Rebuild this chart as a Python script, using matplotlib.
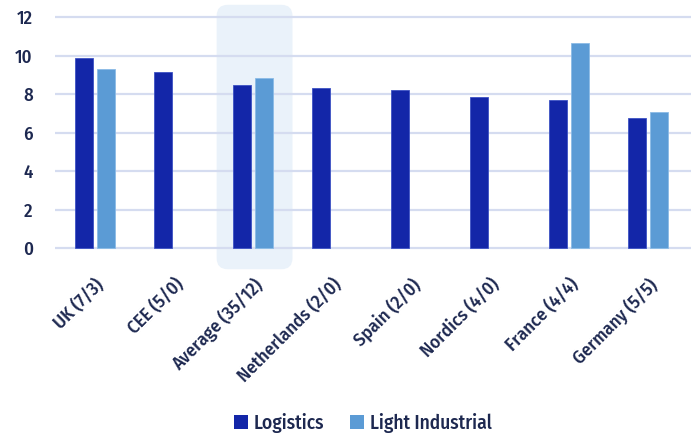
import numpy as np
import matplotlib
matplotlib.use("Agg")
import matplotlib.pyplot as plt
from matplotlib.patches import FancyBboxPatch, Patch
from matplotlib.transforms import IdentityTransform

categories = ["UK (7/3)", "CEE (5/0)", "Average (35/12)", "Netherlands (2/0)",
              "Spain (2/0)", "Nordics (4/0)", "France (4/4)", "Germany (5/5)"]
logistics = [9.9, 9.15, 8.47, 8.33, 8.2, 7.88, 7.72, 6.77]
light_industrial = [9.3, np.nan, 8.83, np.nan, np.nan, np.nan, 10.68, 7.08]
yticks = [0, 2, 4, 6, 8, 10, 12]
highlight = "Average (35/12)"

C_LOG = "#1326a8"
C_LI = "#5b9bd5"
TXT = "#1d2850"
GRID = "#d5dcf0"

plt.rcParams['font.family'] = ['Fira Sans Condensed', 'DejaVu Sans']
plt.rcParams['font.weight'] = 'medium'

fig = plt.figure(figsize=(6.91, 4.37), dpi=100)
ax = fig.add_axes([55/691, 0.4275, 1 - 55/691, 0.5373])
ax.set_xlim(-0.506, 7.544)
ax.set_ylim(-0.1, 12.1)

x = np.arange(len(categories))
w = 0.228
off = 0.142
ax.bar(x - off, logistics, w, color=C_LOG, edgecolor="#3d52c4", linewidth=0.6, zorder=3, label="Logistics")
ax.bar(x + off, light_industrial, w, color=C_LI, edgecolor="#8bbbe6", linewidth=0.6, zorder=3, label="Light Industrial")

for y in yticks:
    ax.axhline(y, color=GRID, lw=1.6, zorder=2)

for s in ax.spines.values():
    s.set_visible(False)
ax.set_yticks(yticks)
ax.set_yticklabels([str(v) for v in yticks])
ax.tick_params(axis='y', length=0, pad=16, labelsize=13.5, labelcolor=TXT)
ax.set_xticks(x)
ax.set_xticklabels(categories, rotation=45, ha='right', va='top', rotation_mode='anchor')
ax.tick_params(axis='x', length=0, pad=18, labelsize=13.5, labelcolor=TXT)

# highlight box around Average group
i = categories.index(highlight)
p0 = ax.transData.transform((i - 0.46, -1.09))
p1 = ax.transData.transform((i + 0.50, 12.65))
box = FancyBboxPatch((p0[0], p0[1]), p1[0] - p0[0], p1[1] - p0[1],
                     boxstyle="round,pad=0,rounding_size=11",
                     transform=IdentityTransform(), facecolor="#eaf2fa",
                     edgecolor="none", zorder=1, clip_on=False)
ax.add_artist(box)
ax.set_zorder(1)

handles = [Patch(facecolor=C_LOG, label="Logistics"), Patch(facecolor=C_LI, label="Light Industrial")]
fig.legend(handles=handles, loc='center', bbox_to_anchor=(0.525, 1 - 423/437), ncol=2,
           frameon=False, fontsize=14, handlelength=0.75, handleheight=0.75,
           handletextpad=0.3, columnspacing=1.3, labelcolor=TXT)

fig.savefig("out.png", dpi=100)
